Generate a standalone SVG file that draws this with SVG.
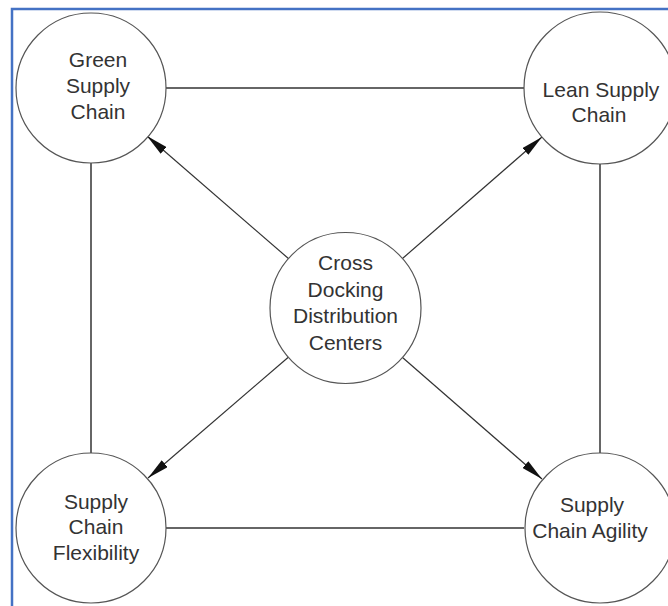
<svg xmlns="http://www.w3.org/2000/svg" width="668" height="606" viewBox="0 0 668 606">
  <style>
    .node circle { fill: #ffffff; stroke: #555555; stroke-width: 1.2; }
    .node text { font-family: "Liberation Sans", Arial, sans-serif; font-size: 21px; fill: #333333; text-anchor: middle; }
    .link { stroke: #333333; stroke-width: 1.5; fill: none; }
    .arrow { stroke: #333333; stroke-width: 1.2; fill: none; marker-end: url(#head); }
  </style>
  <defs>
    <marker id="head" markerUnits="userSpaceOnUse" viewBox="0 0 22 9" refX="22" refY="4.5" markerWidth="22" markerHeight="9" orient="auto">
      <path d="M0,0 L22,4.5 L0,9 Z" fill="#111111"/>
    </marker>
  </defs>

  <rect width="668" height="606" fill="#ffffff"/>
  <!-- frame -->
  <path d="M12,606 V9 H668" fill="none" stroke="#4472c4" stroke-width="2.5"/>

  <g id="connectors">
    <line class="link" x1="166" y1="88" x2="524" y2="88"/>
    <line class="link" x1="166" y1="528" x2="524" y2="528"/>
    <line class="link" x1="91" y1="163" x2="91" y2="453"/>
    <line class="link" x1="600" y1="163" x2="600" y2="453"/>
    <line class="arrow" x1="288.4" y1="258.5" x2="147" y2="136"/>
    <line class="arrow" x1="402.5" y1="258.5" x2="542" y2="137"/>
    <line class="arrow" x1="288.3" y1="357.2" x2="148" y2="478"/>
    <line class="arrow" x1="402.5" y1="357.5" x2="542" y2="479"/>
  </g>

  <g id="green" class="node">
    <circle cx="91" cy="88" r="75"/>
    <text x="98" y="66.5">Green</text>
    <text x="98" y="92.5">Supply</text>
    <text x="98" y="118.5">Chain</text>
  </g>

  <g id="lean" class="node">
    <circle cx="600" cy="88" r="76"/>
    <text x="601" y="96.5">Lean Supply</text>
    <text x="599" y="122">Chain</text>
  </g>

  <g id="flexibility" class="node">
    <circle cx="91" cy="528" r="75"/>
    <text x="96" y="508.5">Supply</text>
    <text x="96" y="534">Chain</text>
    <text x="96" y="560">Flexibility</text>
  </g>

  <g id="agility" class="node">
    <circle cx="600" cy="528" r="75"/>
    <text x="592" y="511.5">Supply</text>
    <text x="590" y="537.5">Chain Agility</text>
  </g>

  <g id="crossdock" class="node">
    <circle cx="345.5" cy="308" r="75.5"/>
    <text x="345.5" y="270">Cross</text>
    <text x="345.5" y="296.5">Docking</text>
    <text x="345.5" y="323">Distribution</text>
    <text x="345.5" y="350">Centers</text>
  </g>
</svg>
